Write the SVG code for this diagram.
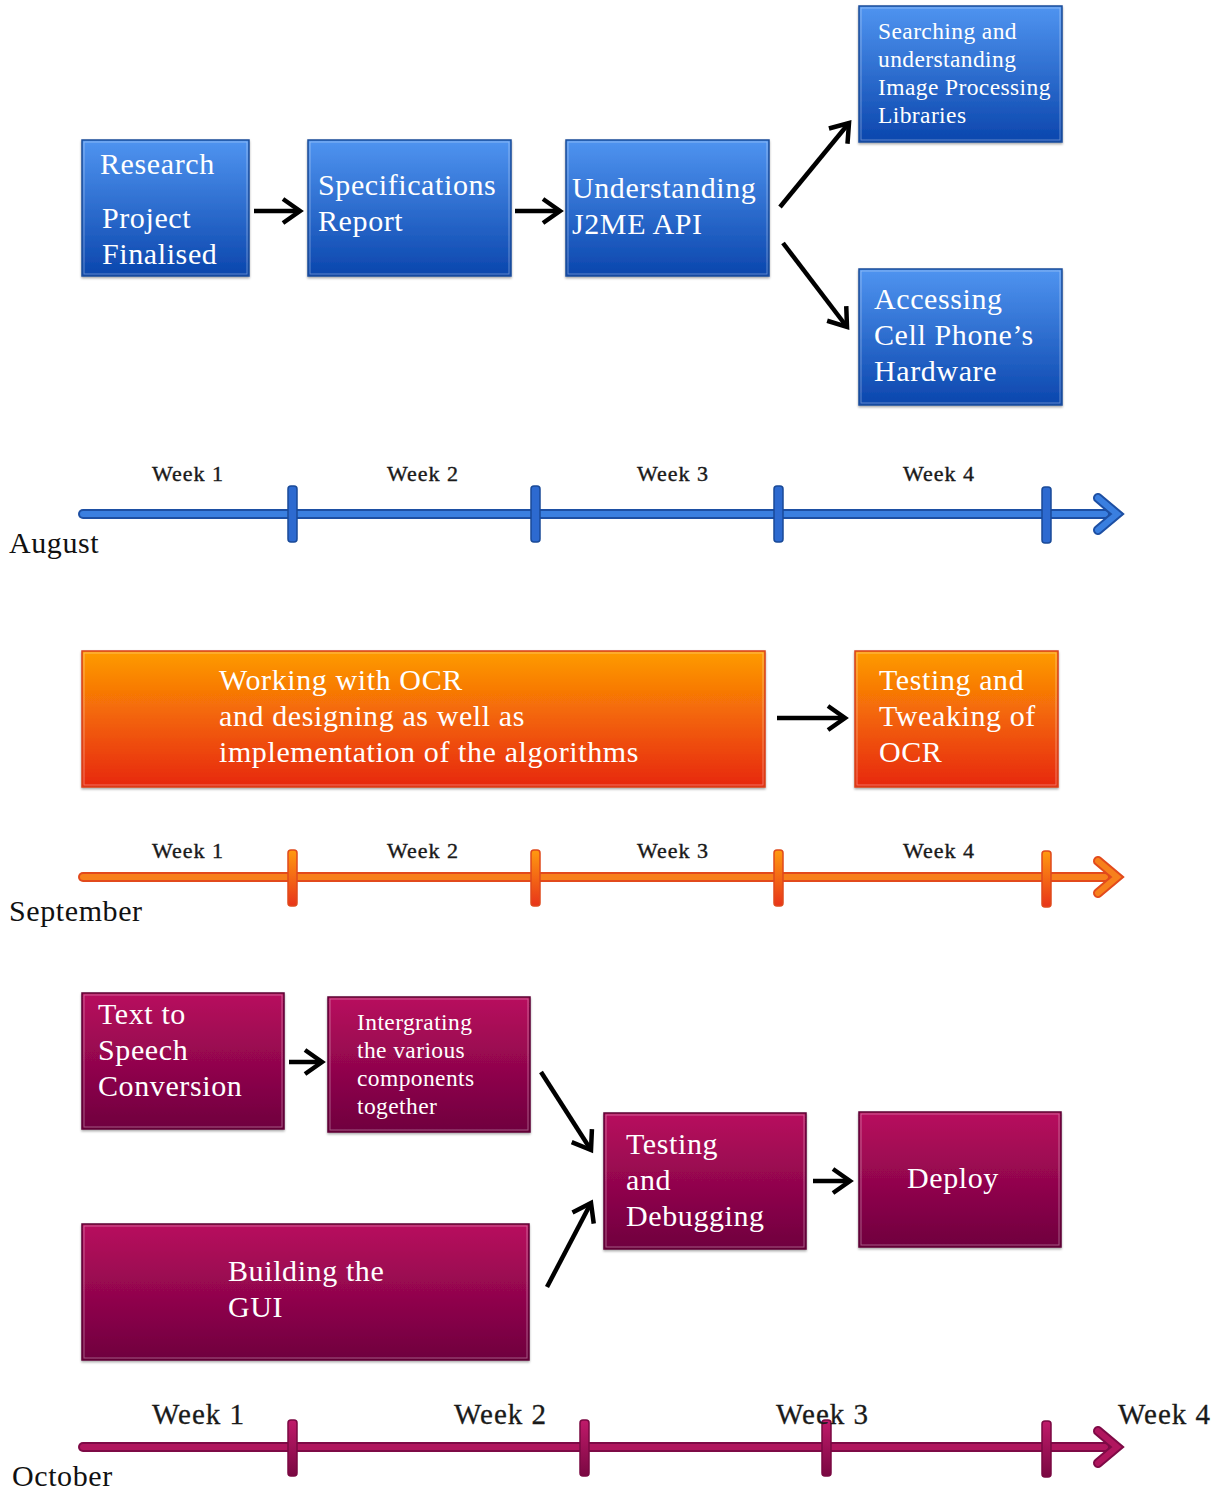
<svg xmlns="http://www.w3.org/2000/svg" width="1212" height="1495" viewBox="0 0 1212 1495">
<defs>
<linearGradient id="gBlue" x1="0" y1="0" x2="0" y2="1"><stop offset="0" stop-color="#4f94f0"/><stop offset="1" stop-color="#0b46ad"/></linearGradient>
<linearGradient id="gOrange" x1="0" y1="0" x2="0" y2="1"><stop offset="0" stop-color="#fe9c02"/><stop offset="1" stop-color="#e7270f"/></linearGradient>
<linearGradient id="gMaroon" x1="0" y1="0" x2="0" y2="1"><stop offset="0" stop-color="#b80c5e"/><stop offset="1" stop-color="#6f003e"/></linearGradient>
<linearGradient id="tOrange" x1="0" y1="0" x2="0" y2="1"><stop offset="0" stop-color="#ff9a10"/><stop offset="1" stop-color="#e8341a"/></linearGradient>
<linearGradient id="tMaroon" x1="0" y1="0" x2="0" y2="1"><stop offset="0" stop-color="#c01a6a"/><stop offset="1" stop-color="#7a0842"/></linearGradient>
<filter id="sh" x="-5%" y="-5%" width="110%" height="115%"><feDropShadow dx="0" dy="1.5" stdDeviation="1.2" flood-color="#000" flood-opacity="0.35"/></filter>
<marker id="ah" markerUnits="userSpaceOnUse" markerWidth="40" markerHeight="40" viewBox="-22 -20 26 40" refX="0" refY="0" orient="auto">
<path d="M-17,-12 L0,0 L-17,12" fill="none" stroke="#000" stroke-width="4.5" stroke-linejoin="miter"/>
</marker>
</defs>
<style>
.bx{stroke-width:1.5;filter:url(#sh)}
.blue{fill:url(#gBlue);stroke:#1c4d9a}
.orange{fill:url(#gOrange);stroke:#d8401c}
.maroon{fill:url(#gMaroon);stroke:#5e0634}
.in{fill:none;stroke:#ffffff;stroke-opacity:0.35;stroke-width:1}
.t{font-family:"Liberation Serif","DejaVu Serif",serif;fill:#ffffff;font-size:30px;letter-spacing:0.6px}
.ts{font-size:23.5px;letter-spacing:0.4px}
.wk{font-family:"Liberation Serif","DejaVu Serif",serif;fill:#1a1a1a;stroke:#1a1a1a;stroke-width:0.4;font-size:22px;letter-spacing:1px}
.wk2{font-size:29px;letter-spacing:1px;stroke-width:0.3}
.mo{font-family:"Liberation Serif","DejaVu Serif",serif;fill:#111;font-size:30px;letter-spacing:0.6px}
.con{fill:none;stroke:#000;stroke-width:4.5;marker-end:url(#ah)}
</style>

<!-- August nodes -->
<g id="n-research"><rect class="bx blue" x="82" y="140" width="167" height="136"/><rect class="in" x="84" y="142" width="163" height="132"/>
<text class="t" x="100" y="174">Research</text><text class="t" x="102" y="228">Project</text><text class="t" x="102" y="264">Finalised</text></g>
<g id="n-spec"><rect class="bx blue" x="308" y="140" width="203" height="136"/><rect class="in" x="310" y="142" width="199" height="132"/>
<text class="t" x="318" y="195">Specifications</text><text class="t" x="318" y="231">Report</text></g>
<g id="n-j2me"><rect class="bx blue" x="566" y="140" width="203" height="136"/><rect class="in" x="568" y="142" width="199" height="132"/>
<text class="t" x="572" y="198">Understanding</text><text class="t" x="572" y="234">J2ME API</text></g>
<g id="n-search"><rect class="bx blue" x="859" y="6" width="203" height="136"/><rect class="in" x="861" y="8" width="199" height="132"/>
<text class="t ts" x="878" y="39">Searching and</text><text class="t ts" x="878" y="67">understanding</text><text class="t ts" x="878" y="95">Image Processing</text><text class="t ts" x="878" y="123">Libraries</text></g>
<g id="n-hardware"><rect class="bx blue" x="859" y="269" width="203" height="136"/><rect class="in" x="861" y="271" width="199" height="132"/>
<text class="t" x="874" y="309">Accessing</text><text class="t" x="874" y="345">Cell Phone’s</text><text class="t" x="874" y="381">Hardware</text></g>

<!-- September nodes -->
<g id="n-ocr"><rect class="bx orange" x="82" y="651" width="683" height="136"/><rect class="in" x="84" y="653" width="679" height="132"/>
<text class="t" x="219" y="690">Working with OCR</text><text class="t" x="219" y="726">and designing as well as</text><text class="t" x="219" y="762">implementation of the algorithms</text></g>
<g id="n-tweak"><rect class="bx orange" x="855" y="651" width="203" height="136"/><rect class="in" x="857" y="653" width="199" height="132"/>
<text class="t" x="879" y="690">Testing and</text><text class="t" x="879" y="726">Tweaking of</text><text class="t" x="879" y="762">OCR</text></g>

<!-- October nodes -->
<g id="n-tts"><rect class="bx maroon" x="82" y="993" width="202" height="136"/><rect class="in" x="84" y="995" width="198" height="132"/>
<text class="t" x="98" y="1024">Text to</text><text class="t" x="98" y="1060">Speech</text><text class="t" x="98" y="1096">Conversion</text></g>
<g id="n-integrate"><rect class="bx maroon" x="328" y="997" width="202" height="135"/><rect class="in" x="330" y="999" width="198" height="131"/>
<text class="t ts" x="357" y="1030">Intergrating</text><text class="t ts" x="357" y="1058">the various</text><text class="t ts" x="357" y="1086">components</text><text class="t ts" x="357" y="1114">together</text></g>
<g id="n-testdebug"><rect class="bx maroon" x="604" y="1113" width="202" height="136"/><rect class="in" x="606" y="1115" width="198" height="132"/>
<text class="t" x="626" y="1154">Testing</text><text class="t" x="626" y="1190">and</text><text class="t" x="626" y="1226">Debugging</text></g>
<g id="n-deploy"><rect class="bx maroon" x="859" y="1112" width="202" height="135"/><rect class="in" x="861" y="1114" width="198" height="131"/>
<text class="t" x="907" y="1188">Deploy</text></g>
<g id="n-gui"><rect class="bx maroon" x="82" y="1224" width="447" height="136"/><rect class="in" x="84" y="1226" width="443" height="132"/>
<text class="t" x="228" y="1281">Building the</text><text class="t" x="228" y="1317">GUI</text></g>

<!-- connectors -->
<g id="connectors">
<line class="con" x1="254" y1="211" x2="300" y2="211"/>
<line class="con" x1="515" y1="211" x2="560" y2="211"/>
<line class="con" x1="780" y1="207" x2="849" y2="123"/>
<line class="con" x1="783" y1="243" x2="847" y2="327"/>
<line class="con" x1="777" y1="718" x2="845" y2="718"/>
<line class="con" x1="289" y1="1062" x2="322" y2="1062"/>
<line class="con" x1="541" y1="1072" x2="591" y2="1150"/>
<line class="con" x1="547" y1="1287" x2="591" y2="1203"/>
<line class="con" x1="813" y1="1181" x2="850" y2="1181"/>
</g>

<!-- August timeline -->
<g id="timeline-august">
<line x1="83" y1="514" x2="1105" y2="514" stroke="#1d4fa3" stroke-width="10" stroke-linecap="round"/>
<line x1="83" y1="514" x2="1105" y2="514" stroke="#3a7fe0" stroke-width="6" stroke-linecap="round"/>
<path d="M1098,498 L1117,514 L1098,530" fill="none" stroke="#1d4fa3" stroke-width="10" stroke-linejoin="miter" stroke-linecap="round"/>
<path d="M1098,498 L1117,514 L1098,530" fill="none" stroke="#3a7fe0" stroke-width="6" stroke-linejoin="miter" stroke-linecap="round"/>
<g fill="#2d6ad0" stroke="#1a4a98" stroke-width="1.5">
<rect x="288" y="486" width="9" height="56" rx="3"/><rect x="531" y="486" width="9" height="56" rx="3"/><rect x="774" y="486" width="9" height="56" rx="3"/><rect x="1042" y="487" width="9" height="56" rx="3"/>
</g>
<text class="wk" x="152" y="481">Week 1</text><text class="wk" x="387" y="481">Week 2</text><text class="wk" x="637" y="481">Week 3</text><text class="wk" x="903" y="481">Week 4</text>
<text class="mo" x="9" y="553">August</text>
</g>

<!-- September timeline -->
<g id="timeline-september">
<line x1="83" y1="877" x2="1105" y2="877" stroke="#e24a1c" stroke-width="10" stroke-linecap="round"/>
<line x1="83" y1="877" x2="1105" y2="877" stroke="#f7801c" stroke-width="6" stroke-linecap="round"/>
<path d="M1098,861 L1117,877 L1098,893" fill="none" stroke="#e24a1c" stroke-width="10" stroke-linecap="round"/>
<path d="M1098,861 L1117,877 L1098,893" fill="none" stroke="#f7801c" stroke-width="6" stroke-linecap="round"/>
<g fill="url(#tOrange)" stroke="#df4a1c" stroke-width="1.5">
<rect x="288" y="850" width="9" height="56" rx="3"/><rect x="531" y="850" width="9" height="56" rx="3"/><rect x="774" y="850" width="9" height="56" rx="3"/><rect x="1042" y="851" width="9" height="56" rx="3"/>
</g>
<text class="wk" x="152" y="858">Week 1</text><text class="wk" x="387" y="858">Week 2</text><text class="wk" x="637" y="858">Week 3</text><text class="wk" x="903" y="858">Week 4</text>
<text class="mo" x="9" y="921">September</text>
</g>

<!-- October timeline -->
<g id="timeline-october">
<line x1="83" y1="1447" x2="1105" y2="1447" stroke="#7e0a46" stroke-width="10" stroke-linecap="round"/>
<line x1="83" y1="1447" x2="1105" y2="1447" stroke="#b0165e" stroke-width="6" stroke-linecap="round"/>
<path d="M1098,1431 L1117,1447 L1098,1463" fill="none" stroke="#7e0a46" stroke-width="10" stroke-linecap="round"/>
<path d="M1098,1431 L1117,1447 L1098,1463" fill="none" stroke="#b0165e" stroke-width="6" stroke-linecap="round"/>
<g fill="url(#tMaroon)" stroke="#7a0842" stroke-width="1.5">
<rect x="288" y="1420" width="9" height="56" rx="3"/><rect x="580" y="1420" width="9" height="56" rx="3"/><rect x="822" y="1420" width="9" height="56" rx="3"/><rect x="1042" y="1421" width="9" height="56" rx="3"/>
</g>
<text class="wk wk2" x="152" y="1424">Week 1</text><text class="wk wk2" x="454" y="1424">Week 2</text><text class="wk wk2" x="776" y="1424">Week 3</text><text class="wk wk2" x="1118" y="1424">Week 4</text>
<text class="mo" x="12" y="1486">October</text>
</g>
</svg>
